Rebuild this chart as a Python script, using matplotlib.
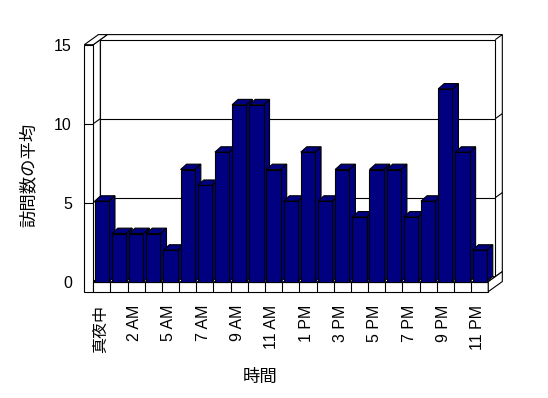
import matplotlib
matplotlib.use('Agg')
import matplotlib.pyplot as plt
from matplotlib.patches import Polygon, Rectangle

plt.rcParams['font.family'] = ['Liberation Sans', 'Noto Sans CJK JP']

# データ（時間帯ごとの訪問数の平均、4 AM は欠測）
hours = ['真夜中', '1 AM', '2 AM', '3 AM', '5 AM', '6 AM', '7 AM', '8 AM',
         '9 AM', '10 AM', '11 AM', '12 PM', '1 PM', '2 PM', '3 PM', '4 PM',
         '5 PM', '6 PM', '7 PM', '8 PM', '9 PM', '10 PM', '11 PM']
visits = [5.1, 3.05, 3.05, 3.05, 2.0, 7.1, 6.1, 8.2, 11.2, 11.2, 7.1, 5.1,
          8.2, 5.1, 7.1, 4.1, 7.1, 7.1, 4.1, 5.1, 12.2, 8.2, 2.0]
y_ticks = [0, 5, 10, 15]

NAVY = '#000080'
LW = 0.8

fig = plt.figure(figsize=(5.48, 3.98), dpi=100)
ax = fig.add_axes([0, 0, 1, 1])
ax.set_xlim(-5.93, 25.98)
ax.set_ylim(-7.36, 17.83)
ax.axis('off')

n = len(visits)
ymax = y_ticks[-1]
L, R = -0.5, n - 0.5
DX, DY = 0.41, 0.32      # 奥行き方向のずれ
BDX, BDY = 0.35, 0.34    # 棒の奥行き
BW = 0.83                # 棒の幅
WT = 0.52                # 左壁の厚み
FT = 0.63                # 床の厚み


def poly(pts, z, fc='white'):
    ax.add_patch(Polygon(pts, closed=True, facecolor=fc, edgecolor='black',
                         lw=LW, zorder=z, joinstyle='miter'))


def line(p0, p1, z):
    ax.plot([p0[0], p1[0]], [p0[1], p1[1]], color='black', lw=LW, zorder=z,
            solid_capstyle='butt')


# 背面の壁（厚みあり）
poly([(L + DX, DY), (R + DX, DY), (R + 2 * DX, 2 * DY), (R + 2 * DX, ymax + 2 * DY),
      (L + 2 * DX, ymax + 2 * DY), (L + DX, ymax + DY)], 1)
poly([(L + DX, DY), (R + DX, DY), (R + DX, ymax + DY), (L + DX, ymax + DY)], 1.1)
line((R + DX, ymax + DY), (R + 2 * DX, ymax + 2 * DY), 1.2)

# 目盛線
for t in y_ticks[1:-1]:
    line((L + DX, t + DY), (R + DX, t + DY), 1.5)
    line((R + DX, t + DY), (R + 2 * DX, t + 2 * DY), 1.5)

# 左の壁
poly([(L, 0), (L, ymax), (L + DX, ymax + DY), (L + DX, DY)], 2)
ax.add_patch(Rectangle((L - WT, -FT), WT, ymax + FT, facecolor='white',
                       edgecolor='black', lw=LW, zorder=2))
poly([(L - WT, ymax), (L, ymax), (L + 2 * DX, ymax + 2 * DY),
      (L - WT + 2 * DX, ymax + 2 * DY)], 2)
for t in y_ticks[1:-1]:
    line((L - WT, t), (L, t), 2.1)
    line((L, t), (L + DX, t + DY), 2.1)

# 床
poly([(L, 0), (R, 0), (R + DX, DY), (L + DX, DY)], 2.5)
ax.add_patch(Rectangle((L, -FT), n, FT, facecolor='white', edgecolor='black',
                       lw=LW, zorder=2.5))
for i in range(n - 1):
    line((i + 0.5, -FT), (i + 0.5, 0), 2.6)
poly([(R, 0), (R, -FT), (R + 2 * DX, -FT + 2 * DY), (R + 2 * DX, 2 * DY),
      (R + DX, DY)], 2.5)

# 棒（3D風）
bars = ax.bar(range(n), visits, width=BW, color=NAVY, edgecolor='black', lw=LW)
for i, (b, v) in enumerate(zip(bars, visits)):
    z = 3 + 0.01 * i
    x0, x1 = i - BW / 2, i + BW / 2
    poly([(x1, 0), (x1 + BDX, BDY), (x1 + BDX, v + BDY), (x1, v)], z, NAVY)
    poly([(x0, v), (x1, v), (x1 + BDX, v + BDY), (x0 + BDX, v + BDY)], z, NAVY)
    b.set_zorder(z + 0.005)

# 目盛ラベル
for t in y_ticks:
    ax.text(-1.74, t - 0.12, str(t), ha='right', va='center', fontsize=11.5)
for i in range(0, n, 2):
    ax.text(i - 0.1, -1.47, hours[i], rotation=90, ha='center', va='top',
            fontsize=11.5)

ax.text(-4.30, 6.75, '訪問数の平均', rotation=90, ha='center', va='center',
        fontsize=12.5)
ax.text(9.21, -6.03, '時間', ha='center', va='center', fontsize=12.5)

fig.savefig('out.png', dpi=100)
